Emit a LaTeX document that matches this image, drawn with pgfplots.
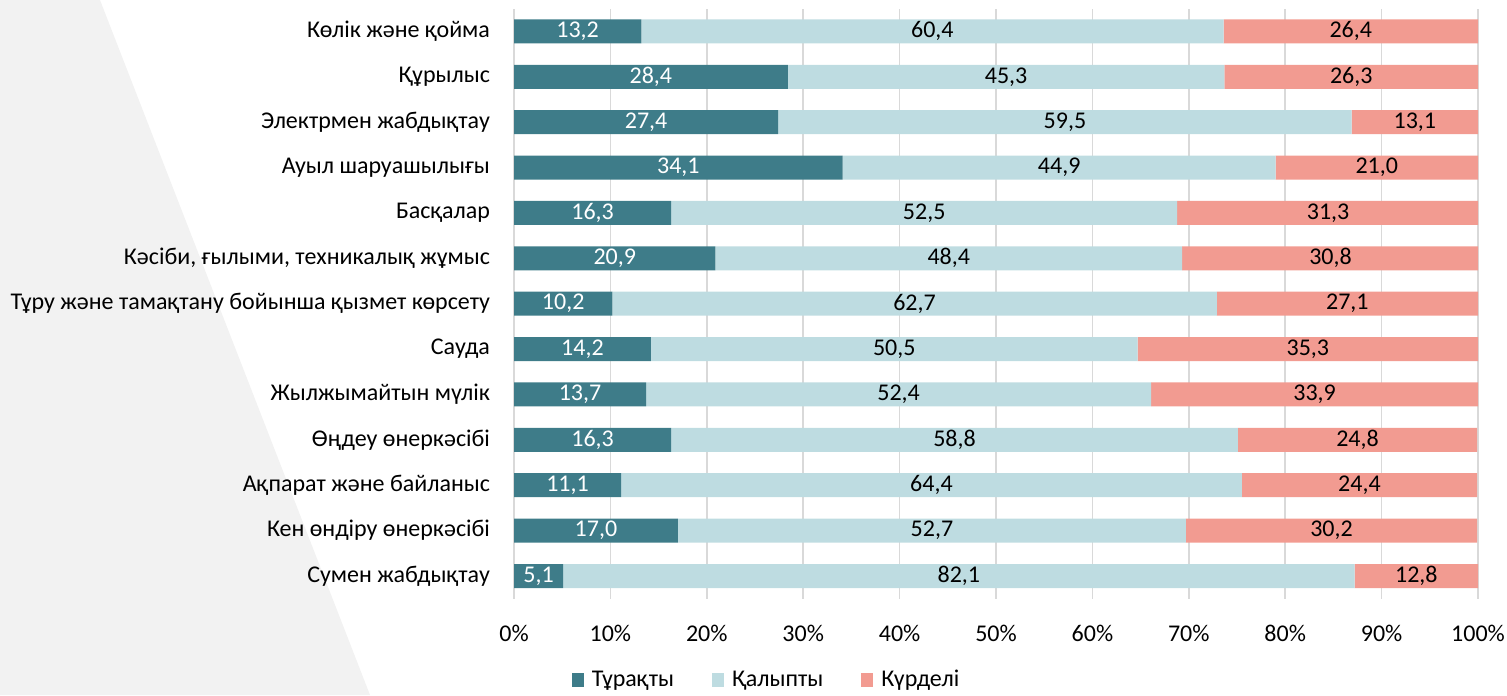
\documentclass[border=0pt]{standalone}
\usepackage{fontspec}
\setmainfont{Carlito}
\usepackage{pgfplots}
\pgfplotsset{compat=1.18}
\usepackage{pgfplotstable}
\definecolor{cA}{HTML}{3E7C89}
\definecolor{cB}{HTML}{BEDCE1}
\definecolor{cC}{HTML}{F29B91}
\definecolor{gridc}{HTML}{D9D9D9}
\definecolor{bgc}{HTML}{F2F2F2}

\pgfplotstableread{
y a b c
12 13.2 60.4 26.4
11 28.4 45.3 26.3
10 27.4 59.5 13.1
9 34.1 44.9 21.0
8 16.3 52.5 31.3
7 20.9 48.4 30.8
6 10.2 62.7 27.1
5 14.2 50.5 35.3
4 13.7 52.4 33.9
3 16.3 58.8 24.8
2 11.1 64.4 24.4
1 17.0 52.7 30.2
0 5.1 82.1 12.8
}\data

\pgfplotsset{common/.style={
  at={(257pt,48.15pt)}, anchor=south west, scale only axis,
  width=482pt, height=295pt,
  xmin=0, xmax=100, ymin=-0.5, ymax=12.5,
  /pgf/number format/assume math mode=true,
}}

\begin{document}
\begin{tikzpicture}[font=\fontsize{12}{14}\selectfont]
\useasboundingbox (0,0) rectangle (753.5pt,347.5pt);
\fill[bgc] (0,0) -- (0,347.5pt) -- (50pt,347.5pt) -- (185pt,0) -- cycle;
\begin{axis}[common,
  xbar stacked, bar width=12pt,
  axis line style={draw=none},
  major tick length=0pt,
  xmajorgrids, grid style={gridc, line width=0.8pt},
  xtick={0,10,...,100},
  xticklabel={\pgfmathprintnumber{\tick}\%},
  xticklabel style={yshift=-9.5pt},
  ytick={0,...,12},
  yticklabels={Сумен жабдықтау, Кен өндіру өнеркәсібі, Ақпарат және байланыс, Өңдеу өнеркәсібі, Жылжымайтын мүлік, Сауда, Тұру және тамақтану бойынша қызмет көрсету, {Кәсіби, ғылыми, техникалық жұмыс}, Басқалар, Ауыл шаруашылығы, Электрмен жабдықтау, Құрылыс, Көлік және қойма},
  yticklabel style={xshift=-8.5pt},
  legend style={at={(axis description cs:0.263,-0.138)}, anchor=center, draw=none, fill=none,
    legend columns=3, /tikz/every even column/.append style={column sep=17pt},
    /tikz/every odd column/.append style={column sep=2pt}},
  legend image code/.code={\fill[#1, draw=none] (0pt,-3.5pt) rectangle (6pt,3.5pt);},
]
\addplot[fill=cA, draw=none] table[x=a, y=y] {\data};
\addplot[fill=cB, draw=none] table[x=b, y=y] {\data};
\addplot[fill=cC, draw=none] table[x=c, y=y] {\data};
\legend{Тұрақты, Қалыпты, Күрделі}
\end{axis}
\begin{axis}[common, hide axis,
  nodes near coords,
  point meta=explicit,
  every node near coord/.append style={anchor=center},
  /pgf/number format/.cd, fixed, fixed zerofill, precision=1, use comma,
]
\addplot[only marks, mark=none, nodes near coords style={text=white}] table[x expr=\thisrow{a}/2, y=y, meta=a] {\data};
\addplot[only marks, mark=none, nodes near coords style={text=black}] table[x expr=\thisrow{a}+\thisrow{b}/2, y=y, meta=b] {\data};
\addplot[only marks, mark=none, nodes near coords style={text=black}] table[x expr=\thisrow{a}+\thisrow{b}+\thisrow{c}/2, y=y, meta=c] {\data};
\end{axis}
\end{tikzpicture}
\end{document}
